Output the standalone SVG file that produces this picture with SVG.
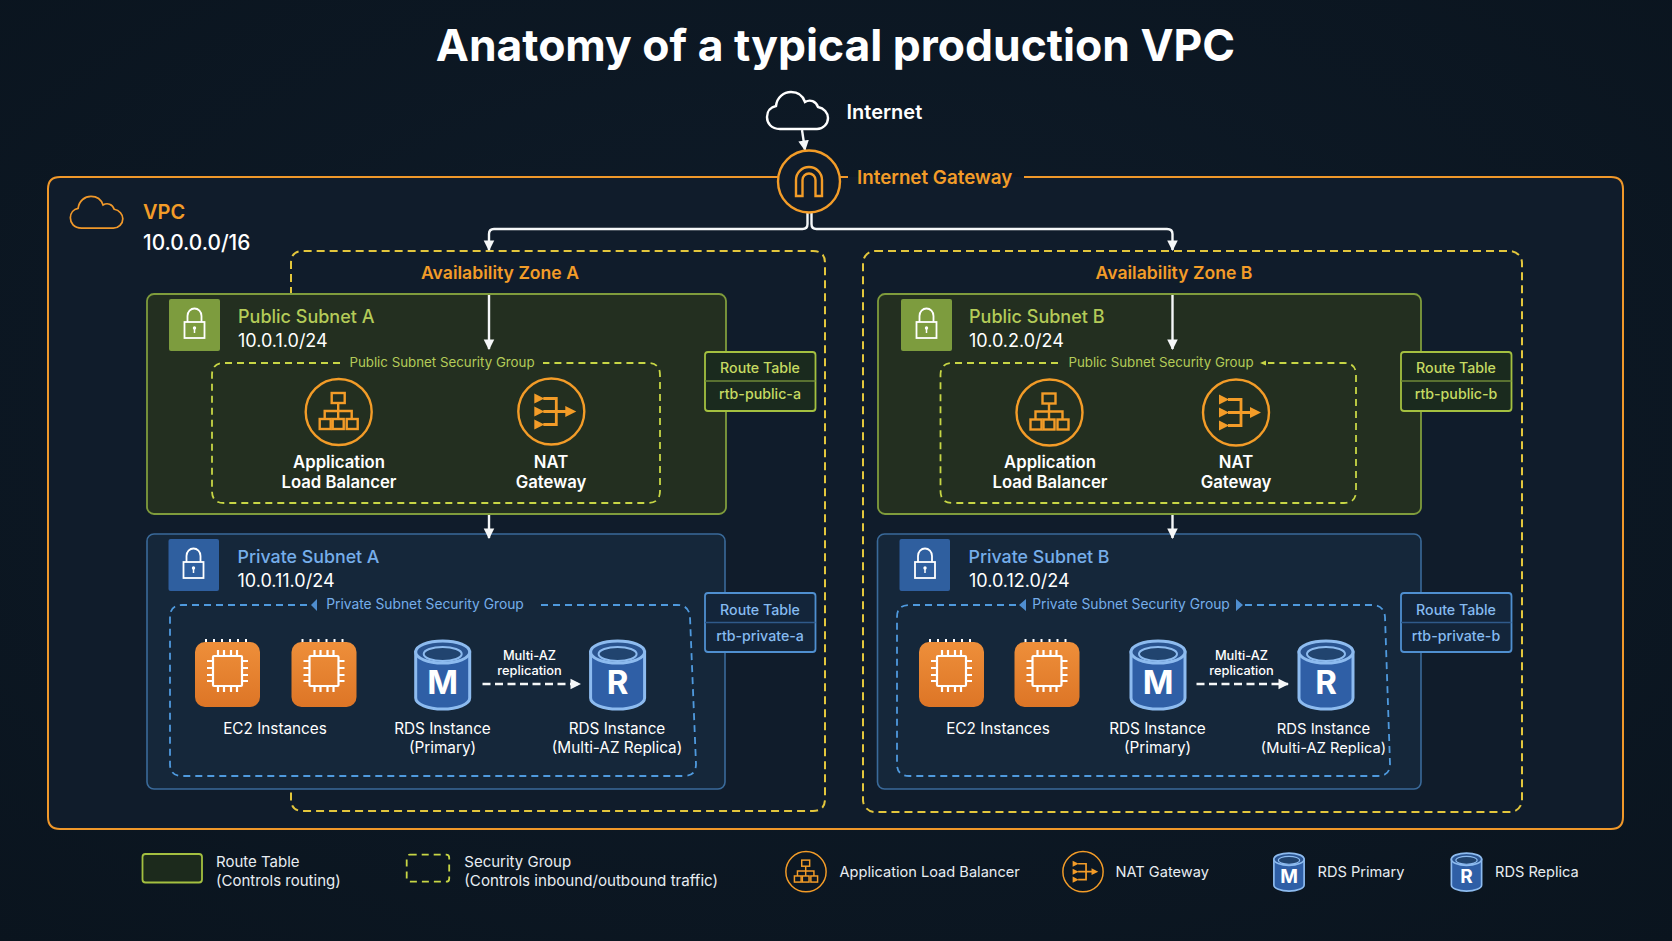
<svg xmlns="http://www.w3.org/2000/svg" xmlns:xlink="http://www.w3.org/1999/xlink" width="1672" height="941" viewBox="0 0 1672 941">
<style>
text{font-family:Inter,"Liberation Sans",sans-serif;fill:#fff}
.m{text-anchor:middle}
.title{font-size:44.4px;font-weight:700}
.h{font-size:20px;font-weight:600}
.igw{font-size:18.8px;font-weight:600;fill:#f39c28}
.o{fill:#f39c28}
.az{font-size:17.6px;font-weight:600;fill:#f39c28}
.sn{font-size:18px;font-weight:500}
.g{fill:#b4cb58}
.b{fill:#76aeea}
.cidr{font-size:18px;font-weight:400}
.sg{font-size:13.300px}
.sgl{font-size:13.800px}
.lbl{font-size:16.700px;font-weight:600}
.rt{font-size:14.200px;font-weight:500}
.gr{fill:#c6da62}
.bl{fill:#86bbf0}
.t15{font-size:15.300px;font-weight:400}
.t13{font-size:12.800px;font-weight:500}
.leg{font-size:15px;font-weight:400;fill:#e8edf2}
.leg2{font-size:14.600px;font-weight:400;fill:#e8edf2}
.big{font-size:33px;font-weight:700;text-anchor:middle}
.wire{fill:none;stroke:#f5f7f8;stroke-width:2.400}
.vpc{fill:none;stroke:#f0982a;stroke-width:2}
.az-box{fill:none;stroke:#e3c63c;stroke-width:2;stroke-dasharray:8 5}
.pub{fill:#232f20;stroke:#7f9c3c;stroke-width:1.800}
.pri{fill:#15273a;stroke:#3a6a9a;stroke-width:1.600}
.sgp{fill:none;stroke:#c7d645;stroke-width:1.800;stroke-dasharray:7 5}
.sgb{fill:none;stroke:#4f9ade;stroke-width:1.800;stroke-dasharray:7 5}
.ic{fill:none;stroke:#f39c28;stroke-width:2.400}
.ic2{fill:none;stroke:#f39c28;stroke-width:2.800}
.ln{fill:none;stroke:#fff;stroke-width:1.800}
</style>
<defs>
<radialGradient id="bg" cx="50%" cy="45%" r="75%"><stop offset="0" stop-color="#0f1c2a"/><stop offset="1" stop-color="#0a141e"/></radialGradient>
<linearGradient id="ec" x1="0" y1="0" x2="0" y2="1"><stop offset="0" stop-color="#ee8f3a"/><stop offset="1" stop-color="#dd7526"/></linearGradient>
<marker id="ah" viewBox="0 0 10 10" refX="9" refY="5" markerWidth="4.400" markerHeight="4.800" orient="auto"><path d="M0,0L10,5L0,10Z" fill="#f5f7f8"/></marker>
<path id="cloud" d="M14,38C5,38 1,32 1,26C1,20 5,16 10,15C11,6 18,1 25,1C32,1 37,5 39,11C44,8 50,10 52,16C58,17 62,22 62,27C62,33 57,38 51,38Z"/>
<g id="lock"><path class="ln" d="M-7,-1V-7A7,7.500 0 0 1 7,-7V-1"/><rect class="ln" x="-10" y="-1" width="20" height="16"/><circle cx="0" cy="5" r="1.700" fill="#fff"/><path d="M0,5V10" stroke="#fff" stroke-width="1.500"/></g>
<g id="alb"><circle class="ic" r="33"/><rect class="ic" x="-7" y="-19" width="13" height="10"/><path class="ic" d="M-.5,-9V-1M-14,7V-1H13V7M-.5,-1V7"/><rect class="ic" x="-19" y="7" width="11" height="10"/><rect class="ic" x="-6" y="7" width="11" height="10"/><rect class="ic" x="8" y="7" width="11" height="10"/></g>
<g id="nat"><circle class="ic" r="33"/><path class="ic2" d="M-8,-13H5V13H-8M-8,0H16"/><path fill="#f39c28" d="M-17,-18L-7,-13L-17,-8ZM-17,-5L-7,0L-17,5ZM-17,8L-7,13L-17,18ZM14,-5.500L25,0L14,5.500Z"/></g>
<g id="ec2"><rect y="2" width="65" height="65" rx="10" fill="url(#ec)"/><path d="M11,2V-1M19,2V-1M27,2V-1M35,2V-1M43,2V-1M51,2V-1" stroke="#fff" stroke-width="2" fill="none"/><g fill="none" stroke="#fff" stroke-width="2.200"><rect x="18" y="16" width="29" height="30" rx="1"/><path d="M23,16V10M29,16V10M36,16V10M42,16V10M23,46V52M29,46V52M36,46V52M42,46V52M18,21H12M18,28H12M18,35H12M18,41H12M47,21H53M47,28H53M47,35H53M47,41H53"/></g></g>
<g id="rds"><path d="M-27,12V58A27,11 0 0 0 27,58V12Z" fill="#2f5fa6" stroke="#8dbbef" stroke-width="3"/><ellipse cy="12" rx="27" ry="11" fill="#2a5490" stroke="#8dbbef" stroke-width="3"/><ellipse cy="14" rx="19" ry="7" fill="#21446f" stroke="#8dbbef" stroke-width="2"/></g>
</defs>
<rect width="1672" height="941" fill="url(#bg)"/>
<text class="title m" x="835.500" y="61">Anatomy of a typical production VPC</text>
<g id="vpc">
<rect x="48" y="177" width="1575" height="652" rx="12" fill="#101c2b"/>
<path class="vpc" d="M778,177H60Q48,177 48,189V817Q48,829 60,829H1611Q1623,829 1623,817V189Q1623,177 1611,177H1024M848,177H840"/>
<use href="#cloud" transform="translate(69.500,195.500) scale(.86)" class="vpc"/>
<text class="h o" x="143" y="219">VPC</text>
<text class="h" x="143" y="250" style="font-size:20.800px;font-weight:500">10.0.0.0/16</text>
</g>
<g id="az-a">
<path class="az-box" d="M291,295V263Q291,251 303,251H813Q825,251 825,263V799Q825,811 813,811H303Q291,811 291,799V789"/>
<text class="az m" x="500" y="279">Availability Zone A</text>
</g>
<g id="az-b">
<rect class="az-box" x="863" y="251" width="659" height="561" rx="12"/>
<text class="az m" x="1174" y="279">Availability Zone B</text>
</g>
<g id="public-subnet-a">
<rect class="pub" x="147" y="294" width="579" height="220" rx="7"/>
<rect x="169" y="299" width="51" height="52" rx="2" fill="#7d9c3e"/>
<use href="#lock" x="194.500" y="323"/>
<text class="sn g" x="238" y="323">Public Subnet A</text>
<text class="cidr" x="238" y="347">10.0.1.0/24</text>
</g>
<g id="public-sg-a">
<path class="sgp" d="M340,363H224Q212,363 212,375V491Q212,503 224,503H648Q660,503 660,491V375Q660,363 648,363H543"/>
<text class="sg g m" x="442" y="367">Public Subnet Security Group</text>
</g>
<g id="alb-a"><use href="#alb" x="338.700" y="412"/><text class="lbl m" x="339" y="468">Application</text><text class="lbl m" x="339" y="488">Load Balancer</text></g>
<g id="nat-a"><use href="#nat" x="551.300" y="411.500"/><text class="lbl m" x="551" y="468">NAT</text><text class="lbl m" x="551" y="488">Gateway</text></g>
<g id="rt-public-a">
<rect x="705" y="352" width="110.500" height="59" rx="3" fill="#1a2a1e" stroke="#a4c040" stroke-width="1.800"/><path d="M705,381H815.500" stroke="#6f8a38" stroke-width="1.500"/>
<text class="rt gr m" x="760" y="373">Route Table</text><text class="rt gr m" x="760" y="399">rtb-public-a</text>
</g>
<g id="public-subnet-b">
<rect class="pub" x="878" y="294" width="543" height="220" rx="7"/>
<rect x="901" y="299" width="51" height="52" rx="2" fill="#7d9c3e"/>
<use href="#lock" x="926.500" y="323"/>
<text class="sn g" x="969" y="323">Public Subnet B</text>
<text class="cidr" x="969" y="347">10.0.2.0/24</text>
</g>
<g id="public-sg-b">
<path class="sgp" d="M1058,363H952.500Q940.500,363 940.500,375V491Q940.500,503 952.500,503H1344Q1356,503 1356,491V375Q1356,363 1344,363H1268"/>
<path d="M1260,363L1266,360.500V365.500Z" fill="#c7d645"/>
<text class="sg g m" x="1161" y="367">Public Subnet Security Group</text>
</g>
<g id="alb-b"><use href="#alb" x="1049.500" y="412.500"/><text class="lbl m" x="1050" y="468">Application</text><text class="lbl m" x="1050" y="488">Load Balancer</text></g>
<g id="nat-b"><use href="#nat" x="1236" y="412.500"/><text class="lbl m" x="1236" y="468">NAT</text><text class="lbl m" x="1236" y="488">Gateway</text></g>
<g id="rt-public-b">
<rect x="1401" y="352" width="110.500" height="59" rx="3" fill="#1a2a1e" stroke="#a4c040" stroke-width="1.800"/><path d="M1401,381H1511.500" stroke="#6f8a38" stroke-width="1.500"/>
<text class="rt gr m" x="1456" y="373">Route Table</text><text class="rt gr m" x="1456" y="399">rtb-public-b</text>
</g>
<g id="private-subnet-a">
<rect class="pri" x="147" y="534" width="578" height="255" rx="7"/>
<rect x="168.500" y="539" width="50.500" height="52" rx="2" fill="#2f5f9f"/>
<use href="#lock" x="193.500" y="563"/>
<text class="sn b" x="237.500" y="563" style="font-size:17.800px">Private Subnet A</text>
<text class="cidr" x="237.500" y="587">10.0.11.0/24</text>
</g>
<g id="private-sg-a">
<path class="sgb" d="M307,605H182Q170,605 170,617V764Q170,776 182,776H684Q696,776 696,764L690,617Q689,605 677,605H536"/>
<path d="M311,605L317,599V611Z" fill="#4f8ed0"/>
<text class="sgl b m" x="425" y="609">Private Subnet Security Group</text>
</g>
<g id="ec2-a"><use href="#ec2" x="195" y="640"/><use href="#ec2" x="291.500" y="640"/><text class="t15 m" x="275" y="734">EC2 Instances</text></g>
<g id="rds-primary-a"><use href="#rds" x="442.700" y="640"/><text class="big" x="442.700" y="694">M</text><text class="t15 m" x="442.500" y="734">RDS Instance</text><text class="t15 m" x="442.500" y="753">(Primary)</text></g>
<g id="rds-replica-a"><use href="#rds" x="617.600" y="640"/><text class="big" x="617.600" y="694">R</text><text class="t15 m" x="617" y="734">RDS Instance</text><text class="t15 m" x="617" y="753">(Multi-AZ Replica)</text></g>
<g id="rt-private-a">
<rect x="705" y="593" width="110.500" height="59" rx="3" fill="#13253a" stroke="#4f8fd0" stroke-width="1.800"/><path d="M705,622.500H815.500" stroke="#2f5a8a" stroke-width="1.500"/>
<text class="rt bl m" x="760" y="615">Route Table</text><text class="rt bl m" x="760" y="641">rtb-private-a</text>
</g>
<g id="private-subnet-b">
<rect class="pri" x="877.500" y="534" width="543.500" height="255" rx="7"/>
<rect x="899.500" y="539" width="50.500" height="52" rx="2" fill="#2f5f9f"/>
<use href="#lock" x="925" y="563"/>
<text class="sn b" x="968.500" y="563" style="font-size:17.800px">Private Subnet B</text>
<text class="cidr" x="969" y="587">10.0.12.0/24</text>
</g>
<g id="private-sg-b">
<path class="sgb" d="M1016,605H909Q897,605 897,617V764Q897,776 909,776H1378Q1390,776 1390,764L1385,617Q1384,605 1372,605H1244"/>
<path d="M1019,605L1026,599V611ZM1243,605L1236,599V611Z" fill="#4f8ed0"/>
<text class="sgl b m" x="1131" y="609">Private Subnet Security Group</text>
</g>
<g id="ec2-b"><use href="#ec2" x="919" y="640"/><use href="#ec2" x="1014.500" y="640"/><text class="t15 m" x="998" y="734">EC2 Instances</text></g>
<g id="rds-primary-b"><use href="#rds" x="1158" y="640"/><text class="big" x="1158" y="694">M</text><text class="t15 m" x="1157.500" y="734">RDS Instance</text><text class="t15 m" x="1157.500" y="753">(Primary)</text></g>
<g id="rds-replica-b"><use href="#rds" x="1326" y="640"/><text class="big" x="1326" y="694">R</text><text class="t15 m" x="1323.500" y="734" style="font-size:14.800px">RDS Instance</text><text class="t15 m" x="1323.500" y="753" style="font-size:14.700px">(Multi-AZ Replica)</text></g>
<g id="rt-private-b">
<rect x="1401" y="593" width="110.500" height="59" rx="3" fill="#13253a" stroke="#4f8fd0" stroke-width="1.800"/><path d="M1401,622.500H1511.500" stroke="#2f5a8a" stroke-width="1.500"/>
<text class="rt bl m" x="1456" y="615">Route Table</text><text class="rt bl m" x="1456" y="641">rtb-private-b</text>
</g>
<g id="connectors">
<path class="wire" d="M802,130L805,150" marker-end="url(#ah)"/>
<path class="wire" d="M807.500,213V224Q807.500,229 802.500,229H494Q489,229 489,234V250" marker-end="url(#ah)"/>
<path class="wire" d="M811.500,213V224Q811.500,229 816.500,229H1167Q1172.500,229 1172.500,234V250" marker-end="url(#ah)"/>
<path class="wire" d="M489,295V349" marker-end="url(#ah)"/>
<path class="wire" d="M1172.500,295V349" marker-end="url(#ah)"/>
<path class="wire" d="M489,515V538" marker-end="url(#ah)"/>
<path class="wire" d="M1172.500,515V538" marker-end="url(#ah)"/>
<path class="wire" d="M482.500,684H580" stroke-dasharray="8 4.500" marker-end="url(#ah)"/>
<path class="wire" d="M1196.500,684H1288" stroke-dasharray="8 4.500" marker-end="url(#ah)"/>
<text class="t13 m" x="529.500" y="660">Multi-AZ</text><text class="t13 m" x="529.500" y="675">replication</text>
<text class="t13 m" x="1241.500" y="660">Multi-AZ</text><text class="t13 m" x="1241.500" y="675">replication</text>
</g>
<g id="internet"><use href="#cloud" x="766" y="91" fill="none" stroke="#fff" stroke-width="2.400"/><text class="h" x="846.500" y="119">Internet</text></g>
<g id="igw">
<circle cx="809" cy="181.500" r="31" fill="#101c2b" stroke="#f39c28" stroke-width="2.400"/>
<path class="ic" d="M796,196V180A13,13 0 0 1 822,180V196H815.500V180A6.500,6.500 0 0 0 802.500,180V196Z"/>
<text class="igw" x="857" y="184">Internet Gateway</text>
</g>
<g id="legend">
<rect x="142.500" y="854" width="59.500" height="28.500" rx="3" fill="#1c2a1c" stroke="#a4c040" stroke-width="1.800"/>
<text class="leg" x="216" y="866.500">Route Table</text><text class="leg" x="216" y="885.500">(Controls routing)</text>
<rect x="406.700" y="854.700" width="42.500" height="27" rx="3" fill="none" stroke="#c7d645" stroke-width="1.800" stroke-dasharray="7 5"/>
<text class="leg" x="464.300" y="866.500">Security Group</text><text class="leg" x="464.300" y="885.500" style="font-size:15.150px">(Controls inbound/outbound traffic)</text>
<use href="#alb" transform="translate(806,871.700) scale(.61)"/><text class="leg2" x="839.500" y="876.500">Application Load Balancer</text>
<use href="#nat" transform="translate(1083,871.700) scale(.61)"/><text class="leg2" x="1115.500" y="877">NAT Gateway</text>
<use href="#rds" transform="translate(1289,852.500) scale(.56)"/><text style="font-size:19px;font-weight:700;text-anchor:middle" x="1289" y="883">M</text><text class="leg2" x="1317.500" y="877">RDS Primary</text>
<use href="#rds" transform="translate(1466.500,852.500) scale(.56)"/><text style="font-size:19px;font-weight:700;text-anchor:middle" x="1466.500" y="883">R</text><text class="leg2" x="1495" y="877">RDS Replica</text>
</g>
</svg>
